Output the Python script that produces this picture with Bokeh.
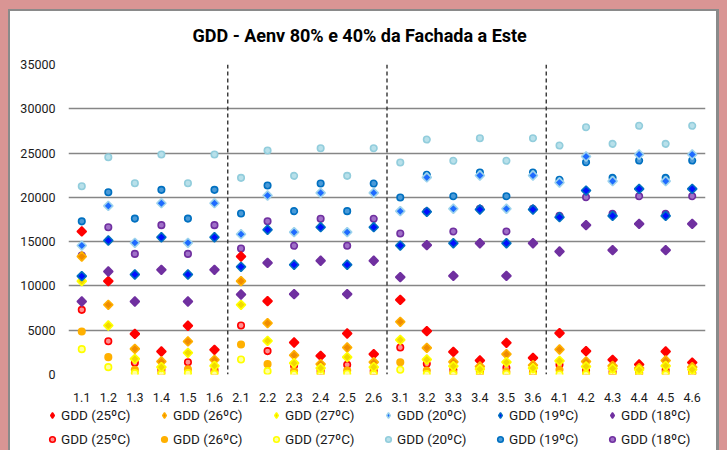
import math
from bokeh.plotting import figure
from bokeh.layouts import column
from bokeh.models import (FactorRange, Range1d, Span, Legend, LegendItem,
                          ColumnDataSource, FixedTicker)
from bokeh.embed import file_html
from bokeh.resources import INLINE

cats = ["1.1", "1.2", "1.3", "1.4", "1.5", "1.6",
        "2.1", "2.2", "2.3", "2.4", "2.5", "2.6",
        "3.1", "3.2", "3.3", "3.4", "3.5", "3.6",
        "4.1", "4.2", "4.3", "4.4", "4.5", "4.6"]
y_ticks = [0, 5000, 10000, 15000, 20000, 25000, 30000, 35000]
group_bounds = [6, 12, 18]

# Aenv 80% series (diamonds)
d25 = [16150, 10540, 4590, 2600, 5500, 2790, 13320, 8280, 3610, 2110, 4630, 2300,
       8430, 4890, 2560, 1580, 3580, 1880, 4670, 2640, 1660, 1130, 2600, 1350]
d26 = [13320, 7870, 2900, 1470, 3730, 1660, 10540, 5800, 2180, 1170, 3050, 1390,
       5950, 3010, 1430, 900, 2300, 1050, 2820, 1470, 980, 720, 1580, 830]
d27 = [10540, 5530, 1770, 830, 2450, 980, 7870, 3800, 1280, 720, 1960, 830,
       3910, 1690, 940, 600, 1390, 720, 1540, 900, 680, 530, 980, 570]
d20 = [14560, 19040, 14870, 19340, 14870, 19340, 15840, 20210, 16070, 20510, 16070, 20510,
       18440, 22250, 18710, 22470, 18710, 22470, 21680, 24610, 21830, 24840, 21830, 24840]
d19 = [11100, 15130, 11290, 15500, 11290, 15500, 12160, 16340, 12390, 16630, 12390, 16630,
       14560, 18370, 14820, 18630, 14820, 18630, 17760, 20770, 17910, 20960, 17910, 20960]
d18 = [8240, 11630, 8240, 11820, 8240, 11820, 9030, 12610, 9070, 12840, 9070, 12840,
       10990, 14600, 11140, 14820, 11140, 14820, 13890, 16860, 14040, 17010, 14040, 17010]

# Aenv 40% series (circles)
c25 = [7300, 3760, 1320, 530, 1390, 500, 5530, 2640, 980, 410, 1090, 410,
       3050, 1200, 530, 300, 750, 230, 1090, 450, 300, 200, 500, 200]
c26 = [4850, 1960, 530, 200, 600, 250, 3390, 1170, 410, 180, 450, 200,
       1390, 450, 230, 150, 300, 150, 530, 150, 100, 80, 200, 80]
c27 = [2860, 830, 150, 50, 150, 50, 1690, 380, 40, 20, 80, 30,
       530, 40, 10, 0, 50, 0, 30, 0, 0, 0, 0, 0]
c20 = [21260, 24530, 21600, 24840, 21600, 24840, 22200, 25290, 22430, 25550, 22430, 25550,
       23940, 26530, 24130, 26680, 24130, 26680, 25850, 27920, 26040, 28080, 26040, 28080]
c19 = [17290, 20580, 17600, 20850, 17600, 20850, 18180, 21340, 18440, 21560, 18440, 21560,
       19990, 22550, 20130, 22810, 20130, 22810, 21980, 23970, 22200, 24160, 22200, 24160]
c18 = [13430, 16630, 13620, 16860, 13620, 16860, 14230, 17310, 14530, 17580, 14530, 17580,
       15920, 18400, 16150, 18700, 16150, 18700, 17910, 20020, 18140, 20130, 18140, 20130]

labels = ["GDD (25ºC)", "GDD (26ºC)", "GDD (27ºC)", "GDD (20ºC)", "GDD (19ºC)", "GDD (18ºC)"]
diamonds = [d25, d26, d27, d20, d19, d18]
circles = [c25, c26, c27, c20, c19, c18]

# (line colour, fill colour)
d_styles = [("#FF0000", "#FF0000"), ("#FFB000", "#F08C00"), ("#FFFF00", "#F2D800"),
            ("#9DD3EC", "#1E6BFF"), ("#0070C0", "#0010FF"), ("#7030A0", "#7030A0")]
c_styles = [("#FF0000", "#FF9090"), ("#FFB000", "#FFB000"), ("#FFFF00", "#FFFFA0"),
            ("#92CDDC", "#B8E0EA"), ("#0070C0", "#4A9AD8"), ("#7030A0", "#A070C8")]

FONT = "Roboto"
PINK = "#d99594"
GRAY = "#8a8a8a"

# ---------------- main chart ----------------
p = figure(x_range=FactorRange(*cats, range_padding=0), y_range=Range1d(0, 35000),
           width=727, height=408, output_backend="svg", toolbar_location=None,
           min_border_left=68, min_border_right=22, min_border_top=64, min_border_bottom=34,
           background_fill_color="white", border_fill_color=None,
           title="GDD - Aenv 80% e 40% da Fachada a Este")
p.outline_line_color = None

p.title.align = "left"
p.title.offset = 124
p.title.standoff = 38
p.title.text_font = FONT
p.title.text_font_size = "18px"
p.title.text_font_style = "bold"
p.title.text_color = "#000000"

p.xgrid.grid_line_color = None
p.ygrid.grid_line_color = "#868686"
p.ygrid.grid_line_width = 1.6
p.yaxis.ticker = FixedTicker(ticks=y_ticks)
for ax in (p.xaxis[0], p.yaxis[0]):
    ax.axis_line_color = None
    ax.major_tick_line_color = None
    ax.minor_tick_line_color = None
    ax.major_tick_out = 0
    ax.major_tick_in = 0
    ax.major_label_text_font = FONT
    ax.major_label_text_font_size = "12.5px"
    ax.major_label_text_color = "#1a1a1a"
p.yaxis.major_label_standoff = 13
p.xaxis.major_label_standoff = 18

for b in group_bounds:
    p.add_layout(Span(location=b, dimension="height", line_color="#333333",
                      line_width=1.4, line_dash="4 3"))

for vals, (lc, fc) in zip(circles, c_styles):
    src = ColumnDataSource(dict(cat=cats, v=vals))
    p.scatter("cat", "v", source=src, marker="circle", size=6.5,
              line_color=lc, fill_color=fc, line_width=1.6)

for vals, (lc, fc) in zip(diamonds, d_styles):
    src = ColumnDataSource(dict(cat=cats, v=vals))
    p.scatter("cat", "v", source=src, marker="square", angle=math.pi / 4, size=6.5,
              line_color=lc, fill_color=fc, line_width=1.6)

# ---------------- legend strip ----------------
lf = figure(width=727, height=42, output_backend="svg", toolbar_location=None,
            x_range=Range1d(0, 1), y_range=Range1d(0, 1), title=None,
            x_axis_location=None, y_axis_location=None,
            min_border_left=0, min_border_right=0, min_border_top=0, min_border_bottom=0,
            background_fill_color=None, border_fill_color=None)
lf.outline_line_color = None
lf.grid.visible = False

nan = float("nan")
ld, lc_ = [], []
for lcol, fcol in d_styles:
    ld.append(lf.scatter([nan], [nan], marker="diamond", size=12,
                         line_color=lcol, fill_color=fcol, line_width=1.4))
for lcol, fcol in c_styles:
    lc_.append(lf.scatter([nan], [nan], marker="circle", size=6.5,
                          line_color=lcol, fill_color=fcol, line_width=1.6))

def make_legend(rends, loc):
    return Legend(items=[LegendItem(label=l, renderers=[r]) for l, r in zip(labels, rends)],
                  location=loc, orientation="horizontal", padding=0, margin=0, spacing=0,
                  glyph_width=14, glyph_height=14, label_standoff=2, label_width=96,
                  label_height=14, label_text_font=FONT, label_text_font_size="13.5px",
                  label_text_color="#1a1a1a", border_line_color=None,
                  background_fill_alpha=0, label_text_baseline="middle")

lf.add_layout(make_legend(ld, (45, 27), ), "center")
lf.add_layout(make_legend(lc_, (45, 3.5)), "center")

layout = column(p, column(lf, spacing=0), spacing=0)
layout.styles = {
    "background-color": "white",
    "box-shadow": (f"inset 8px 0 0 0 {PINK}, inset -8px 0 0 0 {PINK}, inset 0 9px 0 0 {PINK}, "
                   f"inset 10px 0 0 0 {GRAY}, inset -11px 0 0 0 {GRAY}, inset 0 11px 0 0 {GRAY}"),
}

open("out.html", "w").write(file_html(layout, INLINE))
